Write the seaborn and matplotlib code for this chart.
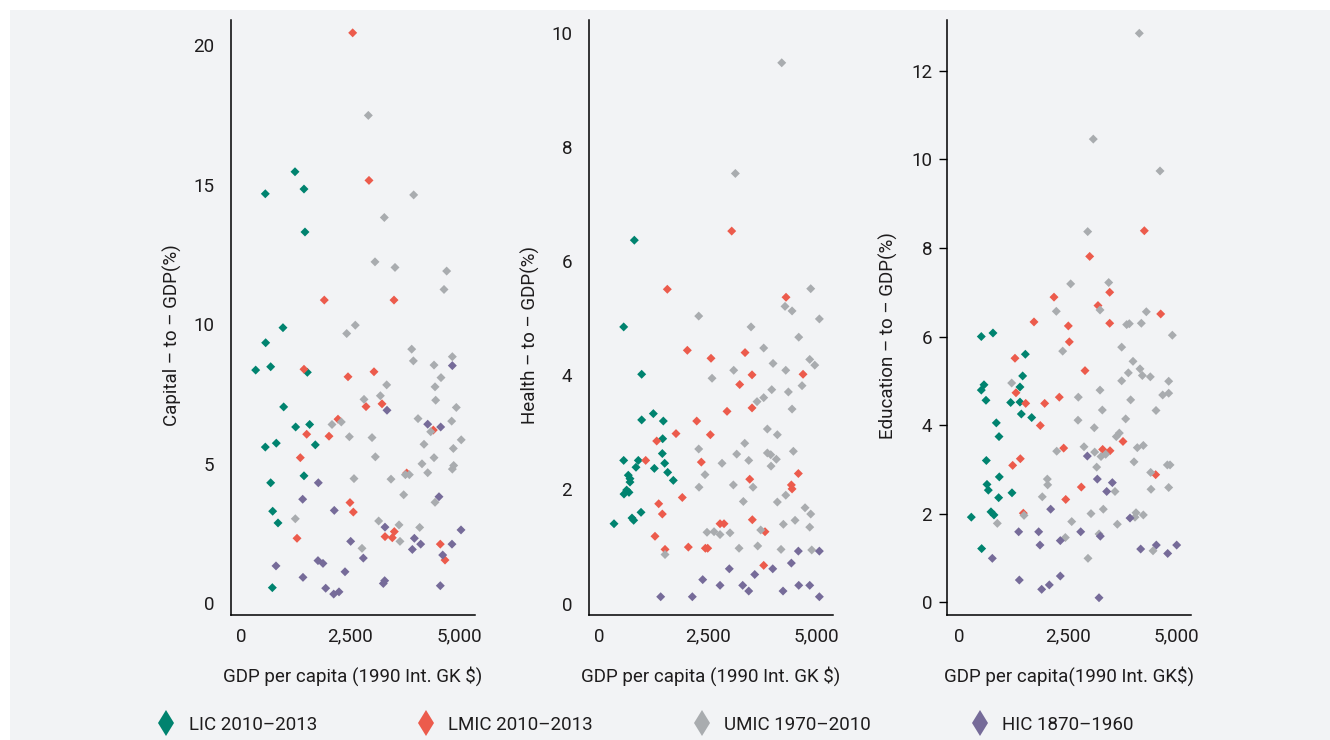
import matplotlib
matplotlib.use("Agg")
import matplotlib.pyplot as plt
from matplotlib.lines import Line2D
from matplotlib.patches import Rectangle
from matplotlib.ticker import FuncFormatter
import seaborn as sns
import pandas as pd

# ---------------- data ----------------
groups = ["LIC 2010\u20132013", "LMIC 2010\u20132013", "UMIC 1970\u20132010", "HIC 1870\u20131960"]
colors = ["#00836F", "#EC5B4C", "#A9ACAF", "#766B99"]

# Panel 1: Capital-to-GDP
cap_lic_x = [1239, 558, 1445, 1468, 963, 566, 337, 681, 1522, 979, 1254, 1575, 558, 810, 1705, 681, 1445, 727, 849, 719]
cap_lic_y = [15.46, 14.67, 14.84, 13.30, 9.87, 9.33, 8.35, 8.47, 8.27, 7.03, 6.31, 6.40, 5.59, 5.73, 5.67, 4.31, 4.56, 3.29, 2.87, 0.55]
cap_lmic_x = [2562, 2936, 1911, 3510, 1445, 2455, 3051, 2868, 3235, 2225, 1507, 2019, 1361, 2500, 2577, 1285, 3304, 3471, 3517, 3801, 4412, 4572, 4680]
cap_lmic_y = [20.44, 15.15, 10.86, 10.86, 8.38, 8.11, 8.29, 7.04, 7.14, 6.59, 6.05, 5.98, 5.21, 3.60, 3.26, 2.32, 2.38, 2.34, 2.56, 4.66, 6.20, 2.11, 1.54]
cap_umic_x = [2921, 3961, 3288, 3074, 3533, 4718, 4657, 2425, 2622, 3916, 3954, 4428, 4848, 4588, 4451, 4466, 3342, 3197, 2822,
              4939, 4061, 4833, 2088, 2301, 4352, 2486, 3006, 5052, 4871, 4198, 3082, 4428, 4152, 4879, 4848, 4283, 3771, 3862,
              2592, 3441, 3732, 4451, 1246, 3158, 3625, 4099, 3647, 2776]
cap_umic_y = [17.48, 14.63, 13.82, 12.23, 12.03, 11.90, 11.24, 9.66, 9.96, 9.10, 8.68, 8.53, 8.83, 8.08, 7.75, 7.27, 7.82, 7.43, 7.30,
              7.01, 6.61, 6.52, 6.40, 6.49, 6.14, 5.96, 5.93, 5.85, 5.54, 5.69, 5.24, 5.21, 4.99, 4.93, 4.80, 4.67, 4.60, 4.60,
              4.46, 4.44, 3.88, 3.61, 3.02, 2.94, 2.80, 2.71, 2.21, 1.96]
cap_hic_x = [4848, 3349, 4283, 4581, 1774, 1415, 4542, 2140, 3303, 3977, 4122, 2516, 3931, 4840, 5047, 2806, 4627, 1766, 1881, 803,
             2386, 1422, 3296, 3265, 4572, 1943, 2127, 2248]
cap_hic_y = [8.51, 6.91, 6.41, 6.31, 4.31, 3.72, 3.81, 3.32, 2.72, 2.32, 2.11, 2.21, 1.92, 2.11, 2.62, 1.61, 1.72, 1.52, 1.42, 1.33,
             1.12, 0.92, 0.80, 0.70, 0.62, 0.53, 0.32, 0.40]

# Panel 2: Health-to-GDP
hea_lic_x = [814, 569, 983, 983, 1252, 1482, 1467, 1459, 1513, 1582, 1712, 1275, 906, 852, 569, 675, 714, 714, 637, 691, 576, 968, 760, 799, 346]
hea_lic_y = [6.37, 4.85, 4.02, 3.22, 3.33, 3.20, 2.89, 2.63, 2.46, 2.30, 2.16, 2.37, 2.51, 2.39, 2.51, 2.25, 2.19, 2.13, 1.99, 1.95, 1.92, 1.60, 1.50, 1.46, 1.40]
hea_lmic_x = [3057, 1574, 4308, 2035, 2580, 3364, 3525, 3241, 4700, 3525, 2949, 2251, 1774, 2565, 1329, 1076, 2357, 4592, 3472, 4431,
              4447, 1919, 1375, 1459, 3532, 2788, 2880, 3824, 1290, 2058, 2450, 2504, 1521, 3794]
hea_lmic_y = [6.53, 5.51, 5.37, 4.44, 4.30, 4.40, 4.01, 3.84, 4.02, 3.43, 3.37, 3.20, 2.98, 2.96, 2.85, 2.51, 2.48, 2.28, 2.18, 2.08,
              2.01, 1.86, 1.75, 1.57, 1.47, 1.40, 1.40, 1.26, 1.18, 0.99, 0.97, 0.97, 0.95, 0.67]
hea_umic_x = [4209, 3141, 4877, 4285, 4447, 5076, 2297, 3502, 4601, 3794, 4009, 3103, 2604, 4302, 4854, 4970, 4677, 3979, 4362, 3794,
              3640, 4447, 3878, 4108, 3357, 2297, 3172, 3878, 3956, 4477, 3449, 4085, 2834, 3963, 2442, 3095, 3548, 2304, 4302, 4108,
              3325, 4746, 4877, 4516, 4247, 4854, 2488, 2650, 2788, 3018, 3725, 3226, 3656, 4193, 4900, 1521]
hea_umic_y = [9.48, 7.54, 5.52, 5.21, 5.13, 4.99, 5.04, 4.85, 4.67, 4.48, 4.21, 4.09, 3.95, 4.09, 4.28, 4.18, 3.82, 3.75, 3.71, 3.61,
              3.54, 3.41, 3.06, 2.96, 2.81, 2.71, 2.62, 2.64, 2.61, 2.67, 2.51, 2.53, 2.46, 2.41, 2.26, 2.08, 2.04, 2.04, 1.90, 1.78,
              1.79, 1.68, 1.57, 1.46, 1.39, 1.34, 1.25, 1.26, 1.21, 1.24, 1.29, 0.97, 1.01, 0.95, 0.94, 0.86]
hea_hic_x = [4592, 5076, 4431, 4002, 3002, 3587, 2389, 2788, 3310, 4601, 4854, 3449, 4239, 1421, 2150, 5076]
hea_hic_y = [0.92, 0.92, 0.71, 0.61, 0.61, 0.51, 0.42, 0.32, 0.32, 0.32, 0.32, 0.22, 0.22, 0.12, 0.12, 0.12]

# Panel 3: Education-to-GDP
edu_lic_x = [514, 783, 1529, 1467, 576, 514, 1405, 622, 1191, 1405, 1436, 1675, 860, 922, 630, 645, 676, 929, 1221, 914, 737, 806, 284, 522]
edu_lic_y = [6.00, 6.08, 5.60, 5.11, 4.91, 4.79, 4.86, 4.56, 4.51, 4.52, 4.25, 4.17, 4.05, 3.74, 3.20, 2.66, 2.53, 2.83, 2.47, 2.36, 2.04, 1.97, 1.92, 1.21]
edu_lmic_x = [4270, 3011, 3472, 2189, 3202, 4647, 1728, 2519, 3472, 1290, 2542, 2903, 1313, 1537, 1974, 2311, 1873, 3778, 2412, 3310,
              3479, 1413, 1237, 4531, 2818, 2459, 1482]
edu_lmic_y = [8.39, 7.81, 7.00, 6.89, 6.70, 6.51, 6.33, 6.24, 6.30, 5.51, 5.88, 5.23, 4.73, 4.49, 4.49, 4.63, 3.99, 3.63, 3.48, 3.45,
              3.42, 3.24, 3.09, 2.88, 2.60, 2.32, 2.01]
edu_umic_x = [4154, 3094, 4631, 2965, 2573, 3449, 3249, 2242, 4316, 4201, 3863, 3924, 4915, 3748, 2389, 4009, 4170, 3901, 4224, 4408,
              3748, 4831, 1214, 3249, 4693, 4831, 2749, 3955, 3302, 4539, 3840, 2742, 3117, 3694, 3624, 2880, 2251, 3126, 3272, 3380,
              4108, 4247, 4032, 3172, 4800, 4862, 4416, 2035, 2043, 3594, 4424, 4831, 1919, 3325, 3041, 4078, 4055, 4247, 1498, 2597,
              3648, 883, 2450, 3226, 4470, 2972]
edu_umic_y = [12.85, 10.46, 9.74, 8.37, 7.19, 7.22, 6.60, 6.57, 6.56, 6.30, 6.27, 6.29, 6.03, 5.76, 5.67, 5.44, 5.27, 5.18, 5.12, 5.09,
              5.00, 4.99, 4.95, 4.79, 4.68, 4.72, 4.63, 4.57, 4.34, 4.33, 4.14, 4.11, 3.94, 3.82, 3.74, 3.51, 3.41, 3.39, 3.29, 3.34,
              3.49, 3.54, 3.17, 3.05, 3.10, 3.10, 2.93, 2.78, 2.65, 2.50, 2.55, 2.59, 2.38, 2.10, 2.00, 2.02, 1.92, 1.97, 1.96, 1.82,
              1.76, 1.78, 1.46, 1.54, 1.16, 0.99]
edu_hic_x = [2957, 3187, 3533, 3403, 2112, 3940, 1375, 1836, 2804, 3256, 2334, 1866, 4546, 5015, 4186, 4808, 768, 2334, 1390, 1905, 2081, 3226]
edu_hic_y = [3.30, 2.78, 2.70, 2.50, 2.10, 1.90, 1.59, 1.59, 1.59, 1.49, 1.39, 1.29, 1.29, 1.29, 1.20, 1.10, 0.99, 0.59, 0.50, 0.29, 0.39, 0.10]

panel_ylabels = ["Capital \u2013 to \u2013 GDP(%)", "Health \u2013 to \u2013 GDP(%)", "Education \u2013 to \u2013 GDP(%)"]
panel_xlabels = ["GDP per capita (1990 Int. GK $)", "GDP per capita (1990 Int. GK $)", "GDP per capita(1990 Int. GK$)"]
x_ticks = [0, 2500, 5000]
panel_yticks = [[0, 5, 10, 15, 20], [0, 2, 4, 6, 8, 10], [0, 2, 4, 6, 8, 10, 12]]

panels = [
    [(cap_lic_x, cap_lic_y), (cap_lmic_x, cap_lmic_y), (cap_umic_x, cap_umic_y), (cap_hic_x, cap_hic_y)],
    [(hea_lic_x, hea_lic_y), (hea_lmic_x, hea_lmic_y), (hea_umic_x, hea_umic_y), (hea_hic_x, hea_hic_y)],
    [(edu_lic_x, edu_lic_y), (edu_lmic_x, edu_lmic_y), (edu_umic_x, edu_umic_y), (edu_hic_x, edu_hic_y)],
]

# ---------------- style ----------------
sns.set_theme(style="white")
FONT = ["Roboto", "DejaVu Sans"]
plt.rcParams["font.family"] = FONT
TXT = "#1E1C1D"
BG = "#F2F3F5"
FS = 13.5

fig = plt.figure(figsize=(13.3, 7.4), dpi=100)
fig.patch.set_facecolor("white")
fig.patches.append(Rectangle((10 / 1330, 0), 1 - 10 / 1330, 730 / 740, transform=fig.transFigure,
                             facecolor=BG, edgecolor="none", zorder=-10))

ax_lefts = [230.7, 588.7, 946.7]
ax_w = 244.3
ax_bottom = 125
ax_h = 595
xlims = [(-236, 5368), (-237, 5390), (-283, 5345)]
ylims = [(-0.43, 20.9), (-0.2, 10.23), (-0.29, 13.15)]

palette = dict(zip(groups, colors))
fmt = FuncFormatter(lambda v, p: f"{int(v):,}")

for i, data in enumerate(panels):
    ax = fig.add_axes([ax_lefts[i] / 1330, ax_bottom / 740, ax_w / 1330, ax_h / 740])
    ax.set_facecolor("none")
    frames = []
    for g, (xs, ys) in zip(groups, data):
        frames.append(pd.DataFrame({"gdp": xs, "val": ys, "group": g}))
    df = pd.concat(frames, ignore_index=True)
    sns.scatterplot(data=df, x="gdp", y="val", hue="group", hue_order=groups, palette=palette,
                    marker="D", s=21, linewidth=0, ax=ax, legend=False)
    ax.set_xlim(*xlims[i])
    ax.set_ylim(*ylims[i])
    ax.set_xticks(x_ticks)
    ax.xaxis.set_major_formatter(fmt)
    ax.set_yticks(panel_yticks[i])
    for s in ["top", "right"]:
        ax.spines[s].set_visible(False)
    for s in ["left", "bottom"]:
        ax.spines[s].set_color("black")
        ax.spines[s].set_linewidth(1.1)
    ax.tick_params(axis="x", length=0, pad=9, labelsize=FS, labelcolor=TXT)
    if i == 2:
        ax.tick_params(axis="y", length=6, width=1, color="black", pad=4.5, labelsize=FS, labelcolor=TXT, left=True)
    else:
        ax.tick_params(axis="y", length=0, pad=12, labelsize=FS, labelcolor=TXT)
    ax.set_xlabel(panel_xlabels[i], fontsize=FS, color=TXT, labelpad=15)
    ax.set_ylabel(panel_ylabels[i], fontsize=FS, color=TXT)
    ax.yaxis.set_label_coords(-0.20, 0.47)
    ax.grid(False)

handles = [Line2D([], [], marker="d", linestyle="none", markersize=13.5, markerfacecolor=c,
                  markeredgewidth=0, color=c) for c in colors]
fig.legend(handles, groups, loc="center left", bbox_to_anchor=(157 / 1330, 15 / 740), ncol=4,
           frameon=False, fontsize=FS, handlelength=1.0, handletextpad=0.7, columnspacing=5.3,
           borderpad=0, borderaxespad=0, labelcolor=TXT)

fig.savefig("out.png", dpi=100, facecolor=fig.get_facecolor())
